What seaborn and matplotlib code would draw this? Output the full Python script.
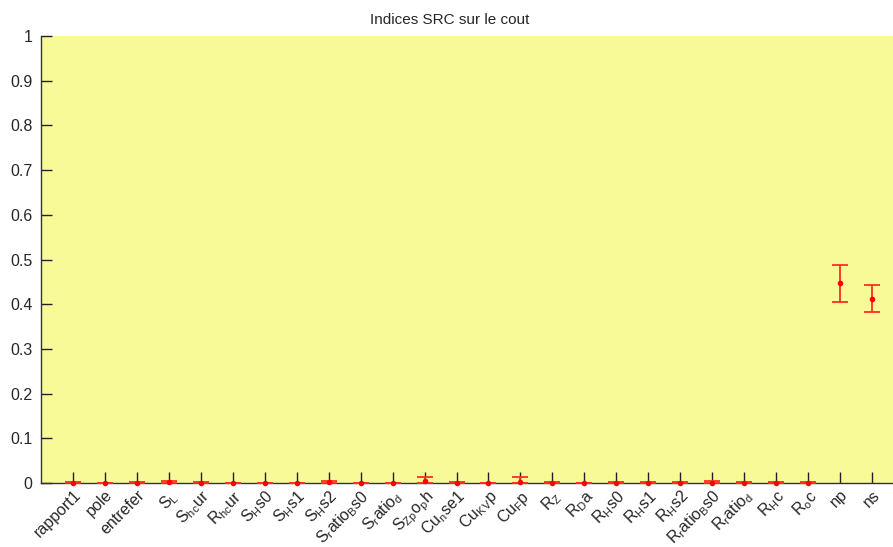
import numpy as np
import matplotlib
matplotlib.use("Agg")
import matplotlib.pyplot as plt
import seaborn as sns

params = ["rapport1", "pole", "entrefer", "S$_L$", "S$_{hc}$ur", "R$_{hc}$ur",
          "S$_H$s0", "S$_H$s1", "S$_H$s2", "S$_r$atio$_B$s0", "S$_r$atio$_d$",
          "S$_{Zp}$o$_p$h", "Cu$_n$se1", "Cu$_{KV}$p", "Cu$_F$p", "R$_Z$", "R$_D$a",
          "R$_H$s0", "R$_H$s1", "R$_H$s2", "R$_r$atio$_B$s0", "R$_r$atio$_d$",
          "R$_H$c", "R$_o$c", "np", "ns"]
mean_vals = [0.001, 0.0, 0.001, 0.002, 0.001, 0.0, 0.0, 0.0, 0.002, 0.0, 0.0,
             0.005, 0.001, 0.0, 0.003, 0.001, 0.0, 0.001, 0.001, 0.001, 0.001, 0.0,
             0.001, 0.001, 0.447, 0.411]
low_vals = [0.0, 0.0, 0.0, 0.0, 0.0, 0.0, 0.0, 0.0, 0.0, 0.0, 0.0,
            0.0, 0.0, 0.0, 0.0, 0.0, 0.0, 0.0, 0.0, 0.0, 0.0, 0.0,
            0.0, 0.0, 0.406, 0.383]
high_vals = [0.002, 0.001, 0.002, 0.004, 0.002, 0.001, 0.001, 0.001, 0.004, 0.001, 0.001,
             0.014, 0.003, 0.001, 0.013, 0.003, 0.001, 0.003, 0.003, 0.003, 0.004, 0.002,
             0.002, 0.002, 0.488, 0.442]
yticks = [0, 0.1, 0.2, 0.3, 0.4, 0.5, 0.6, 0.7, 0.8, 0.9, 1]
ytick_labels = ["0", "0.1", "0.2", "0.3", "0.4", "0.5", "0.6", "0.7", "0.8", "0.9", "1"]

sns.set_style("white")
plt.rcParams['font.family'] = ['Liberation Sans', 'DejaVu Sans']
plt.rcParams['mathtext.fontset'] = 'custom'
plt.rcParams['mathtext.rm'] = 'Liberation Sans'
plt.rcParams['mathtext.it'] = 'Liberation Sans'
plt.rcParams['mathtext.default'] = 'regular'

fig = plt.figure(figsize=(8.93, 5.47), dpi=100)
ax = fig.add_axes([41/893, 1 - 483/547, 863/893, 447/547])
ax.set_facecolor("#F8FA98")

x = np.arange(1, len(params) + 1)
mean = np.array(mean_vals)
lo = np.array(low_vals)
hi = np.array(high_vals)
ax.errorbar(x, mean, yerr=[mean - lo, hi - mean], fmt='none', ecolor='#FF3020',
            elinewidth=1.3, capsize=6, capthick=1.3, zorder=3)
sns.scatterplot(x=x, y=mean, ax=ax, color='red', s=16, marker='o',
                edgecolor='red', linewidth=0, zorder=4, clip_on=False)

ax.set_xlim(0, 27)
ax.set_ylim(0, 1)
ax.set_xticks(x)
ax.set_xticklabels(params, rotation=45, ha='right', rotation_mode='anchor', fontsize=11.5)
ax.set_yticks(yticks)
ax.set_yticklabels(ytick_labels, fontsize=11.5)
ax.tick_params(axis='x', bottom=True, direction='in', length=8, width=1, color='#222222', pad=3)
ax.tick_params(axis='y', left=True, direction='in', length=8, width=1, color='#222222', pad=6)
for s in ['top', 'right']:
    ax.spines[s].set_visible(False)
for s in ['left', 'bottom']:
    ax.spines[s].set_color('#333333')
    ax.spines[s].set_linewidth(1)
ax.set_title("Indices SRC sur le cout", fontsize=11, pad=9, x=(450-41)/863)

fig.savefig("out.png", dpi=100)
